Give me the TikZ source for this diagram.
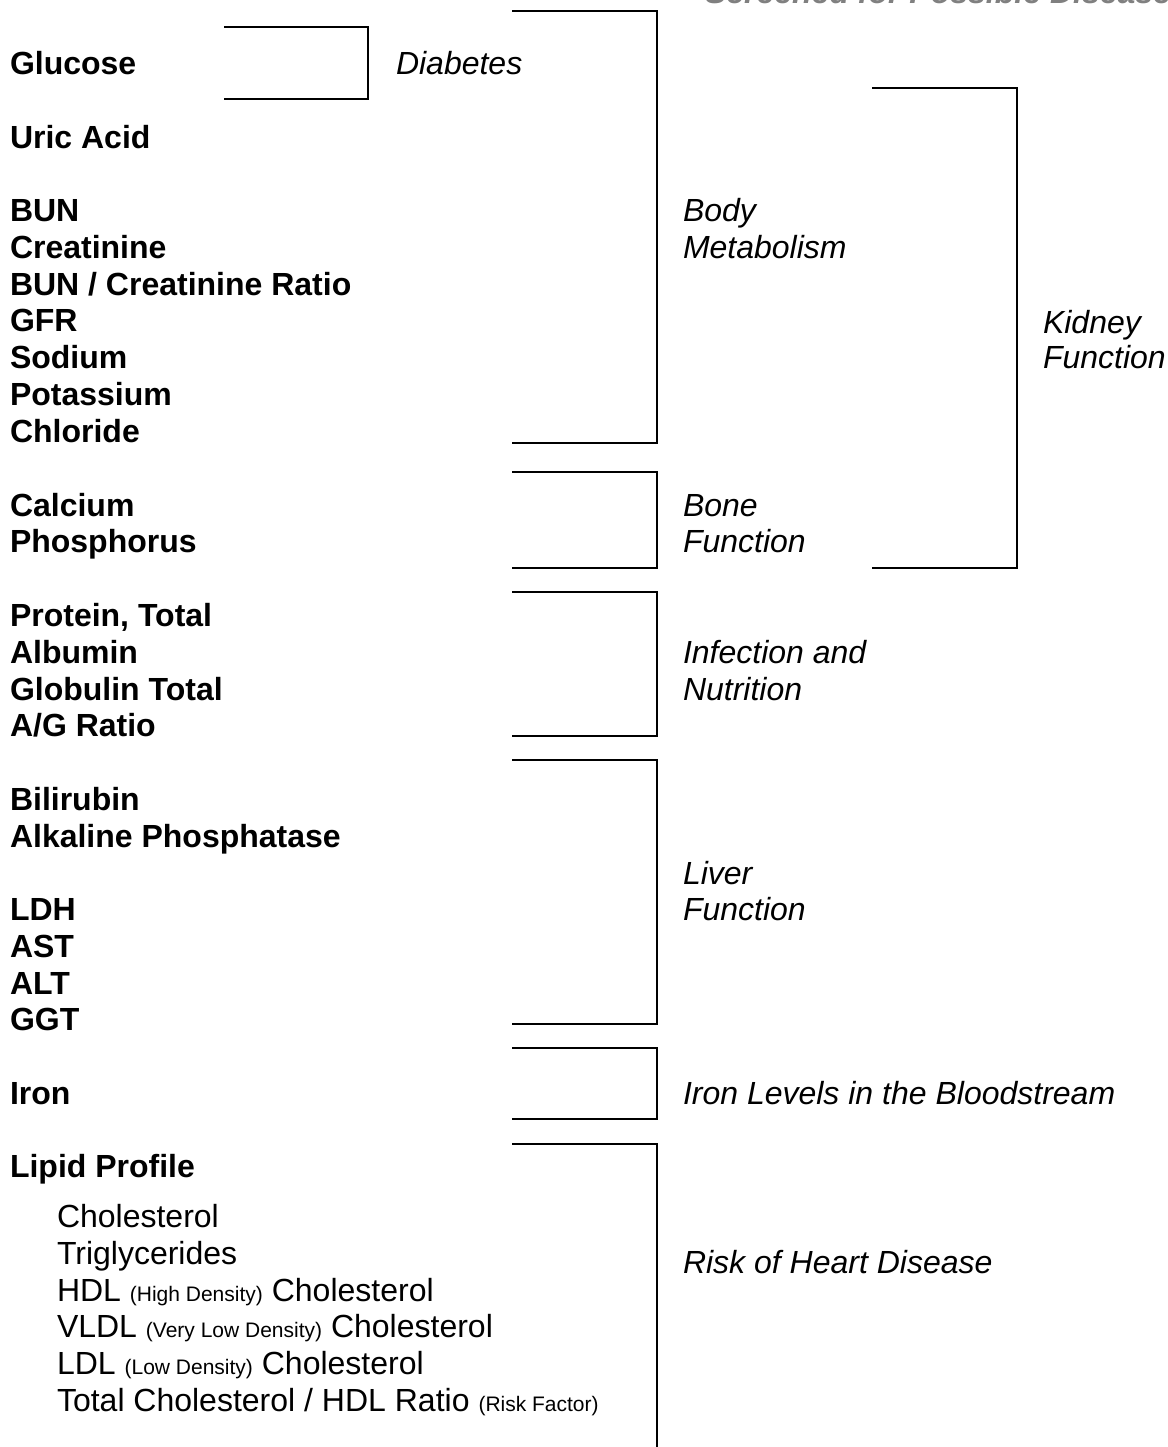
\documentclass[tikz,border=0pt]{standalone}
\usepackage{fontspec}
\setmainfont{Liberation Sans}
\begin{document}
\begin{tikzpicture}[x=1pt,y=-1pt,
  every node/.style={inner sep=0pt,outer sep=0pt,anchor=base west},
  item/.style={font=\fontsize{32}{36.8}\selectfont\bfseries},
  sub/.style={font=\fontsize{32}{36.8}\selectfont},
  lbl/.style={font=\fontsize{32}{36.8}\selectfont\itshape},
  ttl/.style={font=\fontsize{32}{36.8}\selectfont\bfseries\itshape,text=black!50},
  brk/.style={line width=2pt,line join=miter,black}]
\clip (0,0) rectangle (1167,1447);
\fill[white] (0,0) rectangle (1167,1447);
\newcommand{\sm}[1]{{\fontsize{21}{24}\selectfont #1}}
% title (cut off at the top, as in the reference)
\node[ttl] (title) at (705,4) {Screened for Possible Disease};
% left column
\node[item] (glucose) at (10,74.5) {Glucose};
\node[item] (uric) at (10,148.5) {Uric Acid};
\node[item] (bun) at (10,221.5) {BUN};
\node[item] (creat) at (10,258.3) {Creatinine};
\node[item] (bcr) at (10,295.1) {BUN / Creatinine Ratio};
\node[item] (gfr) at (10,331.9) {GFR};
\node[item] (sodium) at (10,368.7) {Sodium};
\node[item] (potassium) at (10,405.5) {Potassium};
\node[item] (chloride) at (10,442.3) {Chloride};
\node[item] (calcium) at (10,516) {Calcium};
\node[item] (phos) at (10,552.8) {Phosphorus};
\node[item] (protein) at (10,626.5) {Protein, Total};
\node[item] (albumin) at (10,663.3) {Albumin};
\node[item] (globulin) at (10,700.1) {Globulin Total};
\node[item] (agratio) at (10,736.9) {A/G Ratio};
\node[item] (bili) at (10,810.5) {Bilirubin};
\node[item] (alkp) at (10,847.3) {Alkaline Phosphatase};
\node[item] (ldh) at (10,920.5) {LDH};
\node[item] (ast) at (10,957.3) {AST};
\node[item] (alt) at (10,994.1) {ALT};
\node[item] (ggt) at (10,1030.9) {GGT};
\node[item] (iron) at (10,1104.5) {Iron};
\node[item] (lipid) at (10,1177.5) {Lipid Profile};
\node[sub] (chol) at (57,1227.5) {Cholesterol};
\node[sub] (trig) at (57,1264.3) {Triglycerides};
\node[sub] (hdl) at (57,1301.1) {HDL \sm{(High Density)} Cholesterol};
\node[sub] (vldl) at (57,1337.9) {VLDL \sm{(Very Low Density)} Cholesterol};
\node[sub] (ldl) at (57,1374.7) {LDL \sm{(Low Density)} Cholesterol};
\node[sub] (tchdl) at (57,1411.5) {Total Cholesterol / HDL Ratio \sm{(Risk Factor)}};
% right labels
\node[lbl] (diab) at (396,74.5) {Diabetes};
\node[lbl] (body1) at (683,221.5) {Body};
\node[lbl] (body2) at (683,258.3) {Metabolism};
\node[lbl] (kid1) at (1043,333) {Kidney};
\node[lbl] (kid2) at (1043,368) {Function};
\node[lbl] (bone1) at (683,516) {Bone};
\node[lbl] (bone2) at (683,552.8) {Function};
\node[lbl] (inf1) at (683,663.3) {Infection and};
\node[lbl] (inf2) at (683,700.1) {Nutrition};
\node[lbl] (liv1) at (683,884) {Liver};
\node[lbl] (liv2) at (683,920.5) {Function};
\node[lbl] (ironl) at (683,1104.5) {Iron Levels in the Bloodstream};
\node[lbl] (risk) at (683,1273.5) {Risk of Heart Disease};
% brackets
\draw[brk] (224,27.3) -- (368,27.3) -- (368,99) -- (224,99);
\draw[brk] (512,10.7) -- (656.7,10.7) -- (656.7,442.7) -- (512,442.7);
\draw[brk] (872,88.3) -- (1016.7,88.3) -- (1016.7,568) -- (872,568);
\draw[brk] (512,471.7) -- (656.7,471.7) -- (656.7,568) -- (512,568);
\draw[brk] (512,592) -- (656.7,592) -- (656.7,736) -- (512,736);
\draw[brk] (512,760) -- (656.7,760) -- (656.7,1024) -- (512,1024);
\draw[brk] (512,1048) -- (656.7,1048) -- (656.7,1119) -- (512,1119);
\draw[brk] (512,1144) -- (656.7,1144) -- (656.7,1460);
\end{tikzpicture}
\end{document}
